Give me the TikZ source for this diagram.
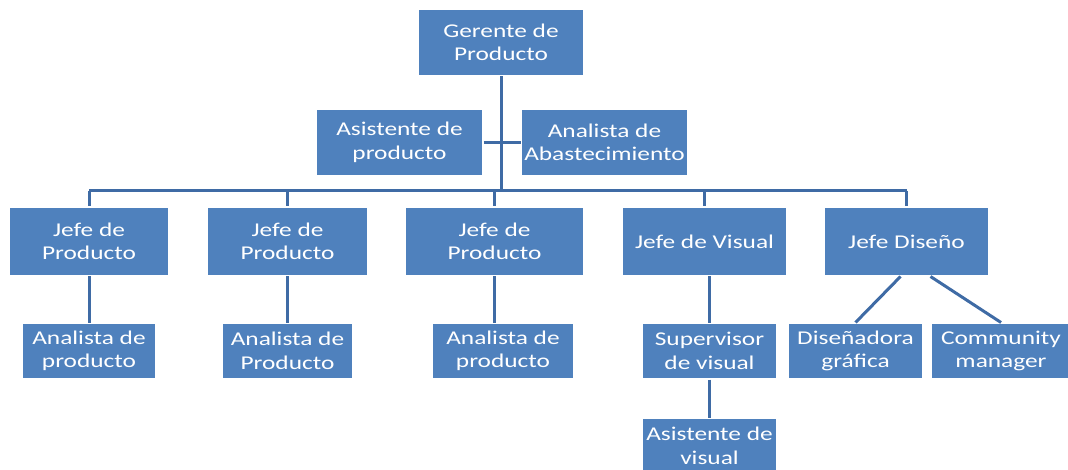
\documentclass[tikz,border=0pt]{standalone}
\usepackage{fontspec}
\setmainfont[FakeStretch=1.3]{Carlito}
\definecolor{boxblue}{HTML}{4F81BD}
\definecolor{lineblue}{HTML}{3F6BA5}

\begin{document}
\begin{tikzpicture}[x=1pt, y=-1pt, line width=3pt, draw=lineblue,
    main/.style = {fill=boxblue, text=white, align=center, inner sep=0pt, font=\fontsize{19.5}{23.5}\selectfont},
    top/.style = {main, minimum height=65pt},
    mid/.style = {main, minimum height=67pt},
    low/.style = {main, minimum height=54pt}]
    \useasboundingbox (0,0) rectangle (1068,470);
    \node[top, minimum width=164pt] (g) at (501,42.5) {Gerente de\\Producto};
    \node[top, minimum width=165pt] (as) at (399.5,142.5) {Asistente de\\producto};
    \node[top, minimum width=165pt] (ab) at (604.5,142.5) {Analista de\\Abastecimiento};
    \node[mid, minimum width=158pt] (j1) at (89,241.5) {Jefe de\\Producto};
    \node[mid, minimum width=159pt] (j2) at (287.5,241.5) {Jefe de\\Producto};
    \node[mid, minimum width=177pt] (j3) at (494.5,241.5) {Jefe de\\Producto};
    \node[mid, minimum width=163pt] (j4) at (704.5,241.5) {Jefe de Visual};
    \node[mid, minimum width=163pt] (j5) at (906.5,241.5) {Jefe Diseño};
    \node[low, minimum width=132pt] (a1) at (89,351) {Analista de\\producto};
    \node[low, minimum width=129pt] (a2) at (287.5,351) {Analista de\\Producto};
    \node[low, minimum width=140pt] (a3) at (503,351) {Analista de\\producto};
    \node[low, minimum width=133pt] (sv) at (709.5,351) {Supervisor\\de visual};
    \node[low, minimum width=133pt] (av) at (709.5,446) {Asistente de\\visual};
    \node[low, minimum width=133pt] (dg) at (855.5,351) {Diseñadora\\gráfica};
    \node[low, minimum width=138pt] (cm) at (1001,351) {Community\\manager};
    \coordinate (b) at (0,191);
    \draw (g) -- (g |- b);
    \draw (as) -- (ab);
    \draw (j1 |- b) -- (j5 |- b);
    \foreach \j in {j1,j2,j3,j4,j5}
        \draw (\j |- b) -- (\j);
    \draw (j1) -- (a1);
    \draw (j2) -- (j2 |- a2.north);
    \draw (j3.south) -- (j3 |- a3.north);
    \draw (sv |- j4.south) -- (sv);
    \draw (sv) -- (av);
    \draw ([xshift=-6pt]j5.south) -- (dg.north);
    \draw ([xshift=24pt]j5.south) -- (cm.north);
\end{tikzpicture}
\end{document}
